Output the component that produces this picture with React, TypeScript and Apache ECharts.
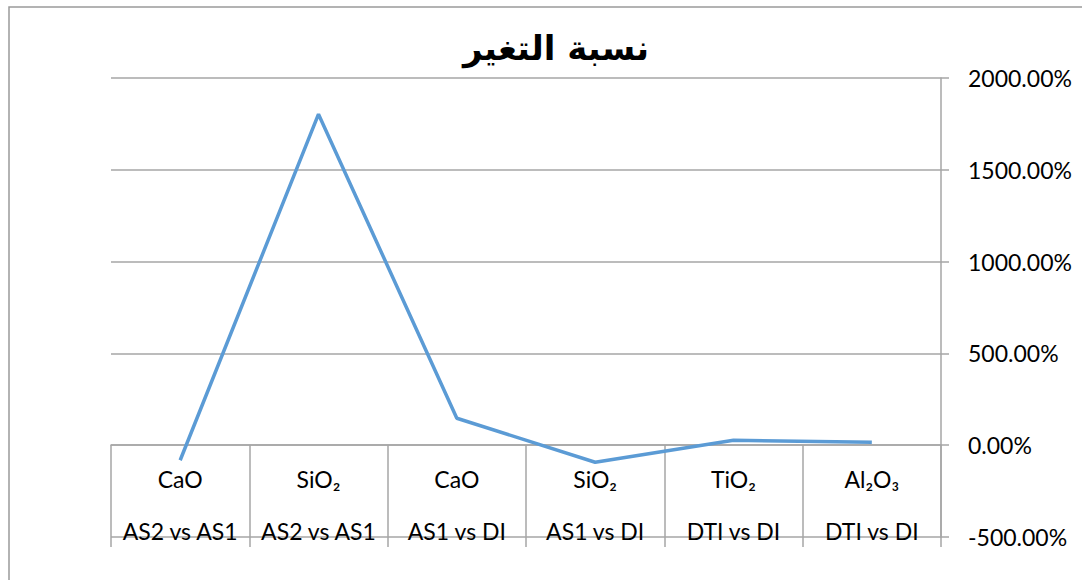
import React, { useEffect, useRef } from "react";
import * as echarts from "echarts";

const elements = ["CaO", "SiO₂", "CaO", "SiO₂", "TiO₂", "Al₂O₃"];
const comparisons = ["AS2 vs AS1", "AS2 vs AS1", "AS1 vs DI", "AS1 vs DI", "DTI vs DI", "DTI vs DI"];
const changePct = [-82, 1803, 147, -93, 27, 16];
const yTicks = { min: -500, max: 2000, interval: 500 };
const titleText = "نسبة التغير";

export default function App() {
  const ref = useRef<HTMLDivElement>(null);
  useEffect(() => {
    if (!ref.current) return;
    const chart = echarts.init(ref.current, null, { renderer: "svg" });
    const cats = elements.map((e, i) => e + "\n\n" + comparisons[i]);
    const gridLine = { color: "#a6a6a6", width: 1.5 };
    chart.setOption({
      animation: false,
      backgroundColor: "#ffffff",
      title: {
        text: titleText,
        left: 551,
        top: 26,
        textAlign: "center",
        textStyle: { fontFamily: "DejaVu Sans", fontWeight: "bold", fontSize: 34, color: "#000" },
      },
      graphic: [
        {
          type: "rect",
          shape: { x: 9, y: 7, width: 1200, height: 700 },
          style: { fill: "none", stroke: "#9a9a9a", lineWidth: 1.5 },
          silent: true,
        },
      ],
      grid: [
        { left: 111, right: 141, top: 78, bottom: 43, containLabel: false, outerBoundsMode: "none" },
        { left: 111, right: 141, top: 445, bottom: 33, containLabel: false, outerBoundsMode: "none" },
      ],
      xAxis: [
        {
          type: "category",
          gridIndex: 0,
          data: cats,
          boundaryGap: true,
          axisLine: { show: true, onZero: true, lineStyle: gridLine },
          axisTick: { show: false },
          axisLabel: { show: false },
          splitLine: { show: false },
        },
        {
          type: "category",
          gridIndex: 1,
          data: cats,
          position: "top",
          boundaryGap: true,
          axisLine: { show: false },
          axisTick: { show: false },
          axisLabel: {
            inside: true,
            margin: 21,
            interval: 0,
            fontFamily: "Lato",
            fontSize: 23,
            lineHeight: 26,
            color: "#000",
          },
          splitLine: { show: true, interval: 0, lineStyle: gridLine },
        },
      ],
      yAxis: [
        {
          type: "value",
          gridIndex: 0,
          position: "right",
          min: yTicks.min,
          max: yTicks.max,
          interval: yTicks.interval,
          axisLine: { show: true, lineStyle: gridLine },
          axisTick: { show: true, length: 8, lineStyle: gridLine },
          axisLabel: {
            margin: 27,
            fontFamily: "Lato",
            fontSize: 23,
            color: "#000",
            formatter: (v: number) => v.toFixed(2) + "%",
          },
          splitLine: { show: true, lineStyle: gridLine },
        },
        {
          type: "value",
          gridIndex: 1,
          min: 0,
          max: 1,
          show: false,
        },
      ],
      series: [
        {
          type: "line",
          xAxisIndex: 0,
          yAxisIndex: 0,
          data: changePct,
          symbol: "none",
          lineStyle: { color: "#5b9bd5", width: 3.5 },
        },
      ],
    });
    return () => chart.dispose();
  }, []);
  return (
    <div
      ref={ref}
      style={{ position: "fixed", left: 0, top: 0, width: 1082, height: 580, background: "#fff" }}
    />
  );
}
